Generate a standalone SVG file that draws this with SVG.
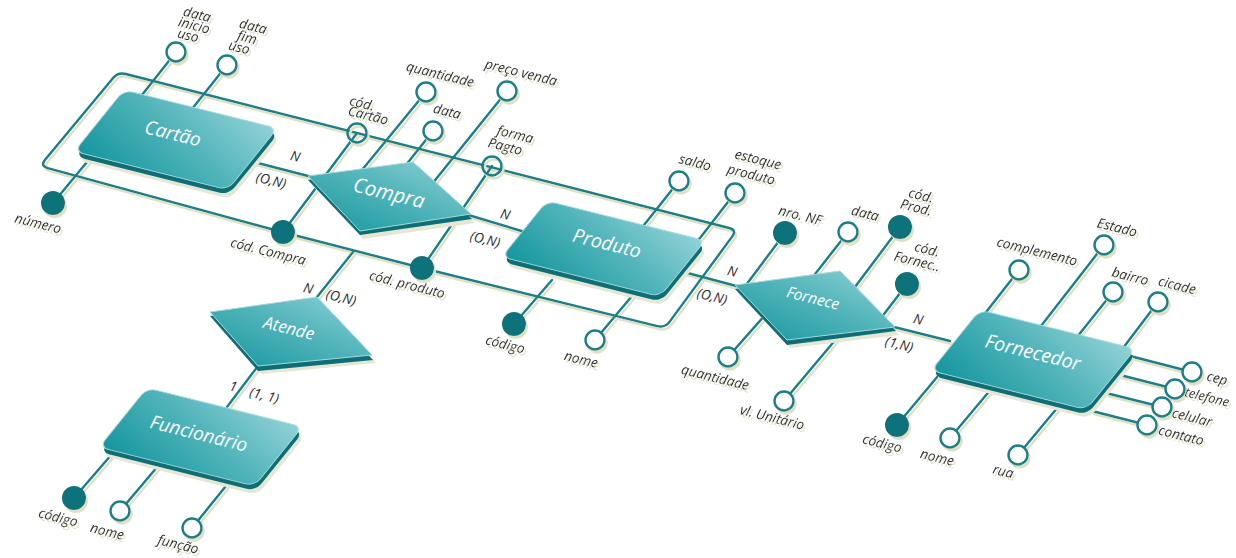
<svg xmlns="http://www.w3.org/2000/svg" width="1236" height="558" viewBox="0 0 1236 558">
<defs>
<style>
.ln{fill:none;stroke:#1a7e86;stroke-width:2.4;stroke-linecap:round;stroke-linejoin:round}
.at{fill:#fff;stroke:#1a7e86;stroke-width:2.4}
.atn{fill:none;stroke:#1a7e86;stroke-width:2.4}
.key{fill:#0e727a;stroke:#0e727a;stroke-width:2}
.lbl{font-family:"Open Sans","Liberation Sans",sans-serif;font-size:13.6px;fill:#2e2e2e;font-style:italic;text-anchor:middle}
.nm{font-family:"Open Sans","Liberation Sans",sans-serif;fill:#fff;font-style:italic;text-anchor:middle}
.top{fill:url(#gTop);stroke:#a3dadd;stroke-width:1}
.side{fill:#0f6e75}
.csh{fill:#e4e7d3}
</style>
<linearGradient id="gTop" x1="0" y1="1" x2="1" y2="0">
<stop offset="0" stop-color="#14959d"/>
<stop offset="0.55" stop-color="#53b5bb"/>
<stop offset="1" stop-color="#92d3d7"/>
</linearGradient>
<filter id="sh" x="-5%" y="-5%" width="115%" height="120%">
<feDropShadow dx="2" dy="3" stdDeviation="0.4" flood-color="#dde2c6" flood-opacity="1"/>
</filter>
</defs>
<rect width="1236" height="558" fill="#fff"/>

<g id="connectors" filter="url(#sh)">
<path class="ln" d="M112.9,78.2 Q118,72 125.8,74 L729.2,228 Q737,230 732.3,236.4 L669.7,321.6 Q665,328 657.2,326.1 L422,268 L282,232 L47.7,168.1 Q40,166 45.1,159.8 Z"/>
<path class="ln" d="M357,133 L283,232"/>
<path class="ln" d="M492,166 L422,268"/>
<path class="ln" d="M353,252 L317,297"/>
<path class="ln" d="M258,366 L227,407"/>
<path class="ln" d="M250,161 L312,177"/>
<path class="ln" d="M465,214 L525,232"/>
<path class="ln" d="M680,271 L740,287"/>
<path class="ln" d="M890,326 L950,341"/>
<path class="ln" d="M176,52 L138,100"/>
<path class="ln" d="M227,65 L188,114"/>
<path class="ln" d="M53,203 L92,156"/>
<path class="ln" d="M426,92 L362,170"/>
<path class="ln" d="M433,131 L402,170"/>
<path class="ln" d="M507,91 L432,184"/>
<path class="ln" d="M679,181 L640,230"/>
<path class="ln" d="M735,193 L693,247"/>
<path class="ln" d="M514,324 L552,280"/>
<path class="ln" d="M595,340 L632,296"/>
<path class="ln" d="M785,233 L743,289"/>
<path class="ln" d="M848,232 L812,278"/>
<path class="ln" d="M900,227 L855,287"/>
<path class="ln" d="M907,284 L878,322"/>
<path class="ln" d="M728,357 L766,314"/>
<path class="ln" d="M784,401 L842,332"/>
<path class="ln" d="M1019,270 L983,316"/>
<path class="ln" d="M1104,245 L1034,335"/>
<path class="ln" d="M1113,292 L1073,342"/>
<path class="ln" d="M1158,302 L1120,352"/>
<path class="ln" d="M1130,356 L1192,372"/>
<path class="ln" d="M1120,375 L1175,389"/>
<path class="ln" d="M1106,393 L1162,407"/>
<path class="ln" d="M1092,411 L1147,425"/>
<path class="ln" d="M897,425 L938,376"/>
<path class="ln" d="M950,438 L992,388"/>
<path class="ln" d="M1018,455 L1058,407"/>
<path class="ln" d="M74,498 L112,454"/>
<path class="ln" d="M120,511 L158,466"/>
<path class="ln" d="M192,528 L230,481"/>
</g>

<g id="cardinalities">
<text class="lbl" transform="translate(295,157) rotate(14)" y="4">N</text>
<text class="lbl" transform="translate(271,181) rotate(14)" y="4">(O,N)</text>
<text class="lbl" transform="translate(505,215) rotate(14)" y="4">N</text>
<text class="lbl" transform="translate(485,240) rotate(14)" y="4">(O,N)</text>
<text class="lbl" transform="translate(732,272) rotate(14)" y="4">N</text>
<text class="lbl" transform="translate(712,297) rotate(14)" y="4">(O,N)</text>
<text class="lbl" transform="translate(918,320) rotate(14)" y="4">N</text>
<text class="lbl" transform="translate(899,345) rotate(14)" y="4">(1,N)</text>
<text class="lbl" transform="translate(308,289) rotate(14)" y="4">N</text>
<text class="lbl" transform="translate(341,298) rotate(14)" y="4">(O,N)</text>
<text class="lbl" transform="translate(233,387) rotate(14)" y="4">1</text>
<text class="lbl" transform="translate(264,396) rotate(14)" y="4">(1, 1)</text>
</g>

<g id="cartao">
<g transform="matrix(0.97,0.243,-0.628,0.778,124,90)">
<rect class="csh" x="8.8" y="8.8" width="158" height="79" rx="9"/>
<rect class="side" x="4.3" y="5.1" width="158" height="79" rx="9"/>
<rect class="top" x="0" y="0" width="158" height="79" rx="9"/>
</g>
<text class="nm" font-size="19" transform="translate(173,133) rotate(14)" y="7">Cartão</text>
</g>

<g id="produto">
<g transform="matrix(0.97,0.243,-0.628,0.778,547,201)">
<rect class="csh" x="8.8" y="8.8" width="163" height="72" rx="9"/>
<rect class="side" x="4.3" y="5.1" width="163" height="72" rx="9"/>
<rect class="top" x="0" y="0" width="163" height="72" rx="9"/>
</g>
<text class="nm" font-size="19.5" transform="translate(607,243) rotate(14)" y="7">Produto</text>
</g>

<g id="fornecedor">
<g transform="matrix(0.97,0.243,-0.628,0.778,980,310)">
<rect class="csh" x="8.8" y="8.8" width="160" height="78" rx="9"/>
<rect class="side" x="4.3" y="5.1" width="160" height="78" rx="9"/>
<rect class="top" x="0" y="0" width="160" height="78" rx="9"/>
</g>
<text class="nm" font-size="19.5" transform="translate(1033,352) rotate(14)" y="7">Fornecedor</text>
</g>

<g id="funcionario">
<g transform="matrix(0.97,0.243,-0.628,0.778,147,388)">
<rect class="csh" x="8.8" y="8.8" width="160" height="76" rx="9"/>
<rect class="side" x="4.3" y="5.1" width="160" height="76" rx="9"/>
<rect class="top" x="0" y="0" width="160" height="76" rx="9"/>
</g>
<text class="nm" font-size="19" transform="translate(199,433) rotate(14)" y="7">Funcionário</text>
</g>

<g id="compra">
<polygon class="csh" points="311,184 416,170 475,223 363,239"/>
<polygon class="side" points="308,180 413,166 472,219 360,235"/>
<polygon class="top" points="308,176 413,162 471,214 360,231"/>
<text class="nm" font-size="20.5" transform="translate(389,193) rotate(14)" y="7">Compra</text>
</g>

<g id="fornece">
<polygon class="csh" points="738,293 843,279 899,335 790,348"/>
<polygon class="side" points="735,289 840,275 896,331 787,345"/>
<polygon class="top" points="735,285 840,271 895,327 787,340"/>
<text class="nm" font-size="15.5" transform="translate(813,298) rotate(14)" y="5.5">Fornece</text>
</g>

<g id="atende">
<polygon class="csh" points="213,320 320,305 376,363 261,374"/>
<polygon class="side" points="210,316 317,301 373,360 258,371"/>
<polygon class="top" points="210,312 317,297 372,355 258,366"/>
<text class="nm" font-size="17" transform="translate(289,328) rotate(14)" y="6">Atende</text>
</g>

<g id="attributes" filter="url(#sh)">
<g id="attr-cartao-datainicio"><circle class="at" cx="176" cy="52" r="9.5"/>
<text class="lbl" transform="translate(197,15) rotate(14)" y="4">data</text>
<text class="lbl" transform="translate(194,26) rotate(14)" y="4">inicio</text>
<text class="lbl" transform="translate(188,36) rotate(14)" y="4">uso</text></g>
<g id="attr-cartao-datafim"><circle class="at" cx="227" cy="65" r="9.5"/>
<text class="lbl" transform="translate(253,27) rotate(14)" y="4">data</text>
<text class="lbl" transform="translate(247,38) rotate(14)" y="4">fim</text>
<text class="lbl" transform="translate(239,48) rotate(14)" y="4">uso</text></g>
<g id="attr-cartao-numero"><circle class="key" cx="53" cy="203" r="11"/>
<text class="lbl" transform="translate(38,224) rotate(14)" y="4">número</text></g>

<g id="attr-compra-codcartao"><circle class="atn" cx="357" cy="133" r="9.5"/>
<text class="lbl" transform="translate(362,104) rotate(14)" y="4">cód.</text>
<text class="lbl" transform="translate(368,116) rotate(14)" y="4">Cartão</text></g>
<g id="attr-compra-quantidade"><circle class="at" cx="426" cy="92" r="9.5"/>
<text class="lbl" transform="translate(440,75) rotate(14)" y="4">quantidade</text></g>
<g id="attr-compra-data"><circle class="at" cx="433" cy="131" r="9.5"/>
<text class="lbl" transform="translate(447,112) rotate(14)" y="4">data</text></g>
<g id="attr-compra-preco"><circle class="at" cx="507" cy="91" r="9.5"/>
<text class="lbl" transform="translate(521,73) rotate(14)" y="4">preço venda</text></g>
<g id="attr-compra-forma"><circle class="atn" cx="492" cy="166" r="9.5"/>
<text class="lbl" transform="translate(515,135) rotate(14)" y="4">forma</text>
<text class="lbl" transform="translate(505,147) rotate(14)" y="4">Pagto</text></g>
<g id="attr-compra-codcompra"><circle class="key" cx="283" cy="232" r="11"/>
<text class="lbl" transform="translate(268,252) rotate(14)" y="4">cód. Compra</text></g>
<g id="attr-compra-codproduto"><circle class="key" cx="422" cy="268" r="11"/>
<text class="lbl" transform="translate(407,285) rotate(14)" y="4">cód. produto</text></g>

<g id="attr-produto-saldo"><circle class="at" cx="679" cy="181" r="9.5"/>
<text class="lbl" transform="translate(695,163) rotate(14)" y="4">saldo</text></g>
<g id="attr-produto-estoque"><circle class="at" cx="735" cy="193" r="9.5"/>
<text class="lbl" transform="translate(758,160) rotate(14)" y="4">estoque</text>
<text class="lbl" transform="translate(751,175) rotate(14)" y="4">produto</text></g>
<g id="attr-produto-codigo"><circle class="key" cx="514" cy="324" r="11"/>
<text class="lbl" transform="translate(505,345) rotate(14)" y="4">código</text></g>
<g id="attr-produto-nome"><circle class="at" cx="595" cy="340" r="9.5"/>
<text class="lbl" transform="translate(581,360) rotate(14)" y="4">nome</text></g>

<g id="attr-fornece-nronf"><circle class="key" cx="785" cy="233" r="11"/>
<text class="lbl" transform="translate(800,216) rotate(14)" y="4">nro. NF</text></g>
<g id="attr-fornece-data"><circle class="at" cx="848" cy="232" r="9.5"/>
<text class="lbl" transform="translate(865,214) rotate(14)" y="4">data</text></g>
<g id="attr-fornece-codprod"><circle class="key" cx="900" cy="227" r="11"/>
<text class="lbl" transform="translate(921,196) rotate(14)" y="4">cód.</text>
<text class="lbl" transform="translate(916,208) rotate(14)" y="4">Prod.</text></g>
<g id="attr-fornece-codfornec"><circle class="key" cx="907" cy="284" r="11"/>
<text class="lbl" transform="translate(927,250) rotate(14)" y="4">cód.</text>
<text class="lbl" transform="translate(917,262) rotate(14)" y="4">Fornec..</text></g>
<g id="attr-fornece-quantidade"><circle class="at" cx="728" cy="357" r="9.5"/>
<text class="lbl" transform="translate(715,378) rotate(14)" y="4">quantidade</text></g>
<g id="attr-fornece-vlunitario"><circle class="at" cx="784" cy="401" r="9.5"/>
<text class="lbl" transform="translate(772,418) rotate(14)" y="4">vl. Unitário</text></g>

<g id="attr-fornecedor-complemento"><circle class="at" cx="1019" cy="270" r="9.5"/>
<text class="lbl" transform="translate(1037,252) rotate(14)" y="4">complemento</text></g>
<g id="attr-fornecedor-estado"><circle class="at" cx="1104" cy="245" r="9.5"/>
<text class="lbl" transform="translate(1117,228) rotate(14)" y="4">Estado</text></g>
<g id="attr-fornecedor-bairro"><circle class="at" cx="1113" cy="292" r="9.5"/>
<text class="lbl" transform="translate(1130,277) rotate(14)" y="4">bairro</text></g>
<g id="attr-fornecedor-cicade"><circle class="at" cx="1158" cy="302" r="9.5"/>
<text class="lbl" transform="translate(1177,286) rotate(14)" y="4">cicade</text></g>
<g id="attr-fornecedor-cep"><circle class="at" cx="1192" cy="372" r="9.5"/>
<text class="lbl" transform="translate(1217,379) rotate(14)" y="4">cep</text></g>
<g id="attr-fornecedor-telefone"><circle class="at" cx="1175" cy="389" r="9.5"/>
<text class="lbl" style="text-anchor:start;font-size:12.8px" transform="translate(1185,392) rotate(14)" y="4">telefone</text></g>
<g id="attr-fornecedor-celular"><circle class="at" cx="1162" cy="407" r="9.5"/>
<text class="lbl" transform="translate(1192,418) rotate(14)" y="4">celular</text></g>
<g id="attr-fornecedor-contato"><circle class="at" cx="1147" cy="425" r="9.5"/>
<text class="lbl" transform="translate(1181,436) rotate(14)" y="4">contato</text></g>
<g id="attr-fornecedor-codigo"><circle class="key" cx="897" cy="425" r="11"/>
<text class="lbl" transform="translate(882,444) rotate(14)" y="4">código</text></g>
<g id="attr-fornecedor-nome"><circle class="at" cx="950" cy="438" r="9.5"/>
<text class="lbl" transform="translate(937,458) rotate(14)" y="4">nome</text></g>
<g id="attr-fornecedor-rua"><circle class="at" cx="1018" cy="455" r="9.5"/>
<text class="lbl" transform="translate(1003,472) rotate(14)" y="4">rua</text></g>

<g id="attr-funcionario-codigo"><circle class="key" cx="74" cy="498" r="11"/>
<text class="lbl" transform="translate(58,518) rotate(14)" y="4">código</text></g>
<g id="attr-funcionario-nome"><circle class="at" cx="120" cy="511" r="9.5"/>
<text class="lbl" transform="translate(107,532) rotate(14)" y="4">nome</text></g>
<g id="attr-funcionario-funcao"><circle class="at" cx="192" cy="528" r="9.5"/>
<text class="lbl" transform="translate(178,545) rotate(14)" y="4">função</text></g>
</g>
</svg>
